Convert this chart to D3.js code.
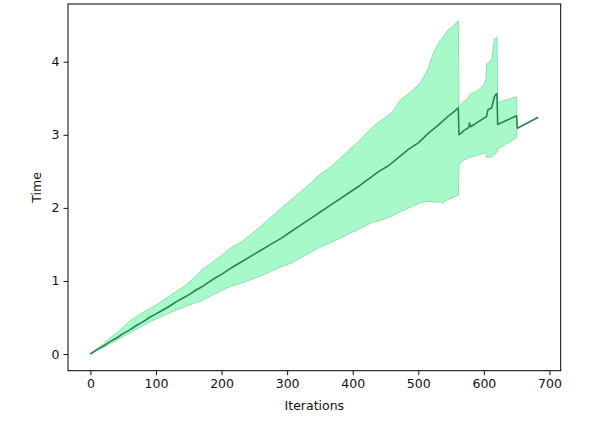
<!DOCTYPE html>
<html>
<head>
<meta charset="utf-8">
<script src="https://cdn.jsdelivr.net/npm/d3@7"></script>
<style>
  html, body { margin: 0; padding: 0; background: #fff; }
  svg { display: block; }
  text { font-family: "DejaVu Sans", sans-serif; fill: #111; }
</style>
</head>
<body>
<svg id="chart" width="599" height="423"></svg>
<script>
// ---- data ----
const meanIter = [0,10,20,30,40,50,60,70,80,90,100,110,120,130,140,150,160,170,180,190,200,215,230,245,260,275,290,305,320,335,350,365,380,395,410,425,440,455,470,485,500,505,515,530,545,555,561,
  562,570,577,578,580,590,604,606,612,616,619,620,621,635,650,651,683];
const meanTime = [0,0.06,0.11,0.17,0.22,0.28,0.33,0.39,0.44,0.50,0.55,0.60,0.65,0.71,0.76,0.81,0.87,0.92,0.98,1.04,1.09,1.18,1.26,1.34,1.42,1.50,1.58,1.67,1.76,1.85,1.94,2.03,2.12,2.21,2.30,2.40,2.50,2.58,2.69,2.80,2.89,2.93,3.02,3.13,3.25,3.32,3.37,
  3.00,3.06,3.10,3.16,3.11,3.17,3.25,3.34,3.37,3.52,3.56,3.56,3.14,3.20,3.26,3.09,3.24];

const bandIter = [0,10,20,30,40,50,60,70,80,90,100,110,120,130,145,160,170,185,200,215,230,245,260,275,290,305,320,335,350,365,380,395,410,427,442,455,460,462,473,488,503,515,523,534,536,544,552,561,
  562,570,576,578,580,590,600,603,604,612,616,620,621,635,650];
const bandLow = [0,0.05,0.09,0.14,0.19,0.24,0.29,0.34,0.39,0.44,0.48,0.52,0.56,0.60,0.65,0.70,0.73,0.80,0.87,0.93,0.97,1.02,1.07,1.13,1.19,1.24,1.31,1.39,1.46,1.52,1.58,1.65,1.71,1.79,1.83,1.87,1.89,1.90,1.95,2.01,2.07,2.09,2.08,2.08,2.06,2.11,2.14,2.17,
  2.60,2.66,2.68,2.72,2.69,2.72,2.75,2.76,2.69,2.70,2.73,2.76,2.81,2.88,2.96];
const bandHigh = [0,0.07,0.14,0.22,0.29,0.37,0.45,0.51,0.57,0.62,0.67,0.73,0.79,0.85,0.94,1.06,1.15,1.25,1.35,1.46,1.53,1.64,1.75,1.87,1.99,2.10,2.22,2.33,2.46,2.55,2.67,2.80,2.92,3.08,3.19,3.27,3.31,3.33,3.48,3.58,3.71,3.90,4.12,4.30,4.31,4.42,4.48,4.56,
  3.39,3.46,3.50,3.55,3.56,3.60,3.68,3.74,3.97,4.03,4.31,4.34,3.44,3.48,3.52];

const xTicks = [0,100,200,300,400,500,600,700];
const yTicks = [0,1,2,3,4];

(function () {
  // ---- layout ----
  const pL = 68, pR = 560.7, pT = 4, pB = 370.7;
  const svg = d3.select("#chart");

  const x = d3.scaleLinear().domain([-34.15, 717.15]).range([pL, pR]);
  const y = d3.scaleLinear().domain([-0.228, 4.79]).range([pB, pT]);

  const band = bandIter.map((it, i) => ({it, lo: bandLow[i], hi: bandHigh[i]}));
  const mean = meanIter.map((it, i) => ({it, v: meanTime[i]}));

  svg.append("path")
    .datum(band)
    .attr("d", d3.area().x(d => x(d.it)).y0(d => y(d.lo)).y1(d => y(d.hi)))
    .attr("fill", "#a8f9c9")
    .attr("stroke", "#8fe0b0")
    .attr("stroke-width", 1);

  svg.append("path")
    .datum(mean)
    .attr("d", d3.line().x(d => x(d.it)).y(d => y(d.v)))
    .attr("fill", "none")
    .attr("stroke", "#23874a")
    .attr("stroke-width", 1.6)
    .attr("stroke-linejoin", "round");

  // frame
  svg.append("rect")
    .attr("x", pL).attr("y", pT)
    .attr("width", pR - pL).attr("height", pB - pT)
    .attr("fill", "none").attr("stroke", "#000").attr("stroke-width", 1);

  // axes
  const xAxis = svg.append("g")
    .attr("transform", `translate(0,${pB})`)
    .call(d3.axisBottom(x).tickValues(xTicks).tickFormat(d3.format("d")).tickSizeOuter(0).tickSize(4.5).tickPadding(4));
  const yAxis = svg.append("g")
    .attr("transform", `translate(${pL},0)`)
    .call(d3.axisLeft(y).tickValues(yTicks).tickFormat(d3.format("d")).tickSizeOuter(0).tickSize(4.5).tickPadding(4));

  [xAxis, yAxis].forEach(g => {
    g.select(".domain").remove();
    g.selectAll(".tick line").attr("stroke", "#111").attr("stroke-width", 1);
    g.selectAll(".tick text").attr("font-size", "12.5px").attr("fill", "#111")
      .style("font-family", "'DejaVu Sans', sans-serif");
  });

  svg.append("text")
    .attr("x", (pL + pR) / 2).attr("y", 410)
    .attr("text-anchor", "middle").attr("font-size", "12.5px")
    .text("Iterations");

  svg.append("text")
    .attr("transform", `translate(41,${(pT + pB) / 2}) rotate(-90)`)
    .attr("text-anchor", "middle").attr("font-size", "12.5px")
    .text("Time");
})();
</script>
</body>
</html>
